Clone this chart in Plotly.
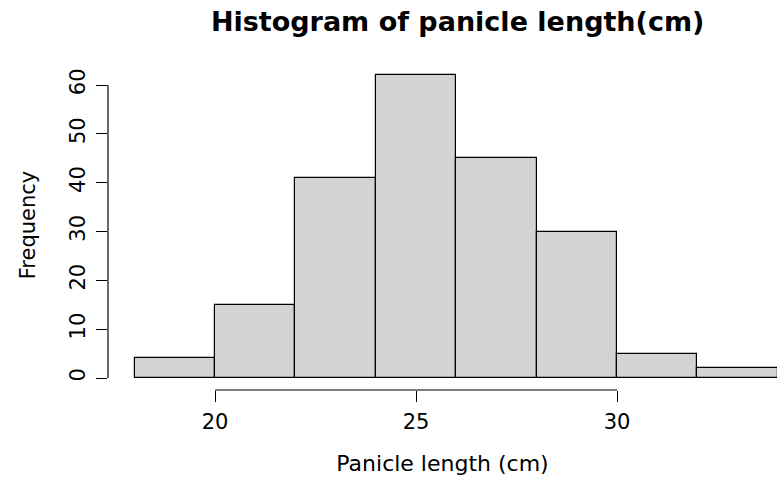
import plotly.graph_objects as go

bin_starts = [18, 20, 22, 24, 26, 28, 30, 32]
bin_width = 2
counts = [4, 15, 41, 62, 45, 30, 5, 2]
x_ticks = [20, 25, 30]
y_ticks = [0, 10, 20, 30, 40, 50, 60]

centers = [b + bin_width / 2 for b in bin_starts]

fig = go.Figure()
fig.add_trace(go.Bar(
    x=centers, y=counts, width=[bin_width] * len(counts),
    marker=dict(color="#D3D3D3", line=dict(color="black", width=1.2)),
    showlegend=False, hoverinfo="x+y",
))

font = "DejaVu Sans, sans-serif"

fig.update_layout(
    width=777, height=479,
    margin=dict(l=108, r=0, t=60, b=89),
    plot_bgcolor="white", paper_bgcolor="white",
    bargap=0,
    title=dict(text="<b>Histogram of panicle length(cm)</b>", x=0.589, xanchor="center",
               y=0.956, yanchor="middle",
               font=dict(family=font, size=27, color="black")),
    xaxis=dict(range=[17.338, 33.98], tickvals=x_ticks, ticks="outside", ticklen=11,
               tickwidth=1.2, tickcolor="black", showgrid=False, zeroline=False,
               showline=False, tickfont=dict(family=font, size=21, color="black"),
               ticklabelstandoff=2,
               title=dict(text="Panicle length (cm)", font=dict(family=font, size=22, color="black"),
                          standoff=22)),
    yaxis=dict(range=[-2.457, 65.12], tickvals=y_ticks, ticks="outside", ticklen=11,
               tickwidth=1.2, tickcolor="black", showgrid=False, zeroline=False,
               showline=False, tickangle=-90, ticklabelstandoff=3,
               tickfont=dict(family=font, size=21, color="black"),
               title=dict(text="Frequency", font=dict(family=font, size=21, color="black"),
                          standoff=24)),
)

# R-style detached axis lines spanning only the tick range
fig.add_shape(type="line", xref="x", yref="paper", x0=x_ticks[0], x1=x_ticks[-1], y0=0, y1=0,
              line=dict(color="black", width=1.2))
fig.add_shape(type="line", xref="paper", yref="y", x0=0, x1=0, y0=y_ticks[0], y1=y_ticks[-1],
              line=dict(color="black", width=1.2))

fig.write_html("out.html")
